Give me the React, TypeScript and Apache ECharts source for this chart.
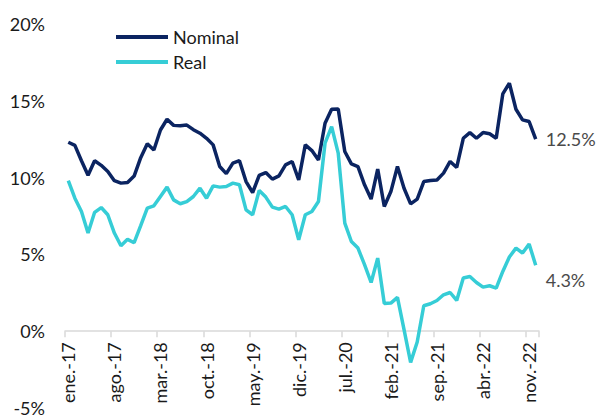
import React, { useEffect, useRef } from "react";
import * as echarts from "echarts";

const monthNames = ["ene.", "feb.", "mar.", "abr.", "may.", "jun.", "jul.", "ago.", "sep.", "oct.", "nov.", "dic."];
const years = ["17", "18", "19", "20", "21", "22"];
const categories: string[] = [];
years.forEach((y) => monthNames.forEach((m) => categories.push(`${m}-${y}`)));

const nominal = [
  12.3, 12.1, 11.1, 10.15, 11.1, 10.8, 10.4, 9.8, 9.64, 9.68, 10.1, 11.3,
  12.2, 11.8, 13.1, 13.8, 13.4, 13.37, 13.42, 13.12, 12.89, 12.56, 12.13, 10.72,
  10.26, 10.94, 11.1, 9.74, 9.03, 10.14, 10.33, 9.9, 10.11, 10.83, 11.05, 9.85,
  12.13, 11.76, 11.15, 13.54, 14.45, 14.47, 11.7, 10.89, 10.72, 9.53, 8.6, 10.55,
  8.12, 9.09, 10.72, 9.31, 8.29, 8.6, 9.74, 9.81, 9.85, 10.29, 11.05, 10.66,
  12.56, 12.93, 12.56, 12.93, 12.85, 12.56, 15.45, 16.14, 14.45, 13.76, 13.65, 12.5,
];

const real = [
  9.8, 8.66, 7.79, 6.39, 7.74, 8.05, 7.58, 6.39, 5.56, 5.98, 5.76, 6.87,
  8.01, 8.16, 8.77, 9.38, 8.55, 8.3, 8.44, 8.77, 9.31, 8.66, 9.46, 9.38,
  9.42, 9.64, 9.53, 7.9, 7.58, 9.16, 8.73, 8.08, 7.95, 8.12, 7.58, 5.95,
  7.58, 7.79, 8.44, 12.24, 13.32, 11.59, 7.04, 5.84, 5.41, 4.33, 3.17, 4.76,
  1.8, 1.83, 2.2, 0.1, -2.03, -0.7, 1.66, 1.79, 2.0, 2.37, 2.52, 2.0,
  3.46, 3.56, 3.17, 2.87, 2.96, 2.81, 3.89, 4.83, 5.41, 5.09, 5.67, 4.3,
];

const yMin = -5;
const yMax = 20;
const yStep = 5;

const NAVY = "#0b2461";
const TEAL = "#36cdd6";
const FONT = "Lato, 'Open Sans', sans-serif";

const GRID_TOP = 24;
const GRID_BOTTOM = 11;
const CHART_H = 419;

export default function App() {
  const ref = useRef<HTMLDivElement>(null);

  useEffect(() => {
    if (!ref.current) return;
    const chart = echarts.init(ref.current, undefined, { renderer: "svg" });
    const plotH = CHART_H - GRID_TOP - GRID_BOTTOM;
    // distance from the grid bottom (yMin) up to the zero line
    const zeroOffset = ((0 - yMin) / (yMax - yMin)) * plotH;
    const endLabel = (offsetY: number) => ({
      show: true,
      formatter: (p: any) => `${Number(p.value).toFixed(1)}%`,
      color: "#4a4a4a",
      fontSize: 18,
      fontFamily: FONT,
      distance: 10,
      offset: [0, offsetY],
    });
    chart.setOption({
      animation: false,
      textStyle: { fontFamily: FONT },
      grid: {
        left: 65,
        right: 59,
        top: GRID_TOP,
        bottom: GRID_BOTTOM,
        containLabel: false,
        outerBoundsMode: "none",
      },
      legend: {
        orient: "vertical",
        left: 111,
        top: 23,
        itemWidth: 52,
        itemHeight: 4,
        itemGap: 7,
        icon: "rect",
        textStyle: { fontSize: 18, color: "#1a1a1a", fontFamily: FONT, lineHeight: 18 },
        data: ["Nominal", "Real"],
      },
      xAxis: {
        type: "category",
        data: categories,
        boundaryGap: true,
        position: "bottom",
        offset: -zeroOffset,
        axisLine: { show: true, onZero: false, lineStyle: { color: "#d9d9d9", width: 1.5 } },
        axisTick: { show: true, interval: 6, length: 6, lineStyle: { color: "#d9d9d9", width: 1.5 } },
        axisLabel: {
          interval: 6,
          rotate: 90,
          margin: 11,
          fontSize: 18,
          color: "#1a1a1a",
          fontFamily: FONT,
        },
        splitLine: { show: false },
      },
      yAxis: {
        type: "value",
        min: yMin,
        max: yMax,
        interval: yStep,
        axisLine: { show: false },
        axisTick: { show: false },
        splitLine: { show: false },
        axisLabel: {
          formatter: "{value}%",
          fontSize: 18,
          color: "#1a1a1a",
          margin: 20,
          fontFamily: FONT,
        },
      },
      series: [
        {
          name: "Nominal",
          type: "line",
          data: nominal,
          symbol: "none",
          lineStyle: { color: NAVY, width: 3.5 },
          itemStyle: { color: NAVY },
          endLabel: endLabel(0),
        },
        {
          name: "Real",
          type: "line",
          data: real,
          symbol: "none",
          lineStyle: { color: TEAL, width: 3.5 },
          itemStyle: { color: TEAL },
          endLabel: endLabel(15),
        },
      ],
    });
    return () => chart.dispose();
  }, []);

  return (
    <div
      ref={ref}
      style={{ position: "fixed", left: 0, top: 0, width: 598, height: 419, background: "#fff" }}
    />
  );
}
